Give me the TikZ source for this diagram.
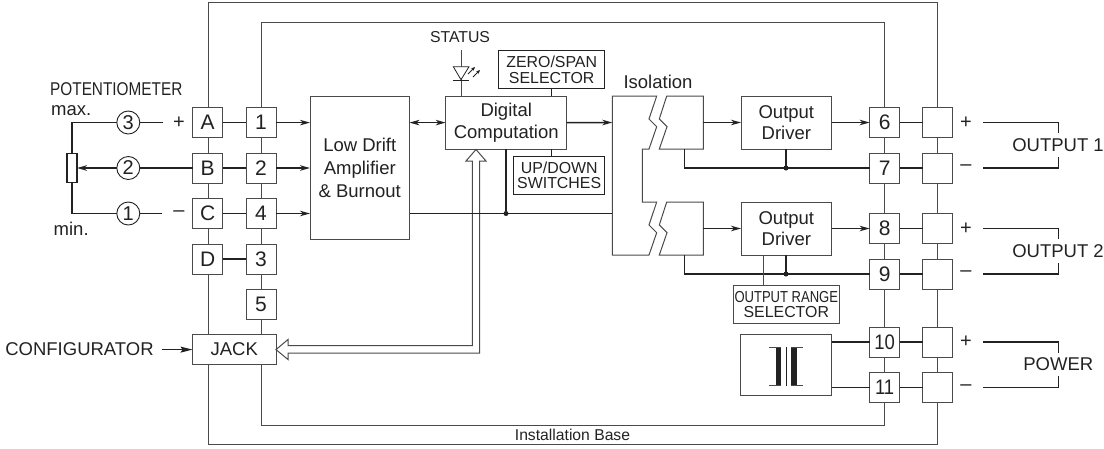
\documentclass[tikz,border=0pt]{standalone}
\usepackage{fontspec}
\setmainfont{Liberation Sans}
\usetikzlibrary{arrows.meta,calc}
\definecolor{ink}{HTML}{222222}
\definecolor{wire}{HTML}{4A4A4A}
\newcommand{\fs}[2]{\fontsize{#1}{#2}\selectfont}
\tikzset{
  x=1pt,y=-1pt,
  every node/.style={text=ink,font=\fs{18.5}{21.5}},
  thinl/.style={draw=wire,line width=1pt},
  thickl/.style={draw=ink,line width=1.5pt},
  term/.style={draw=wire,line width=1pt,fill=white,minimum width=30pt,minimum height=30pt,inner sep=0pt,outer sep=0pt,font=\fs{21}{21}},
  blockbox/.style={draw=wire,line width=1pt,fill=white,inner sep=0pt,outer sep=0pt,align=center},
  smallbox/.style={draw=ink,line width=0.9pt,fill=white,inner sep=0pt,outer sep=0pt,align=center,font=\fs{15.9}{15.4}},
  circ/.style={draw=ink,line width=0.9pt,fill=white,circle,minimum size=23pt,inner sep=0pt,outer sep=0pt,font=\fs{20}{20}},
  arr/.style={thickl,-{Stealth[length=10pt,width=5.5pt,inset=3pt]}},
  larr/.style={thickl,{Stealth[length=10pt,width=5.5pt,inset=3pt]}-{Stealth[length=10pt,width=5.5pt,inset=3pt]}},
  dotn/.style={circle,fill=ink,minimum size=5pt,inner sep=0pt,outer sep=0pt},
  lbl/.style={inner sep=0pt,outer sep=0pt},
  signl/.style={lbl,font=\fs{20}{20}},
  gaplbl/.style={lbl,fill=white,inner ysep=5pt},
}
\begin{document}
\begin{tikzpicture}
\useasboundingbox (0,0) rectangle (1104,448);
% frames
\draw[thinl] (208,2) rectangle (937.6,444);
\draw[thinl] (261,22) rectangle (884.6,425);
% left terminals
\node[term] (A) at (207.6,122.6) {A};
\node[term] (B) at (207.6,168) {B};
\node[term] (C) at (207.6,213.5) {C};
\node[term] (D) at (207.6,259) {D};
\node[term] (t1) at (261,122.6) {1};
\node[term] (t2) at (261,168) {2};
\node[term] (t4) at (261,213.5) {4};
\node[term] (t3) at (261,259) {3};
\node[term] (t5) at (261,304) {5};
\node[blockbox,minimum width=83.5pt,minimum height=30pt,anchor=west] (jack) at (192.5,349.6) {JACK};
% right terminals
\node[term] (t6) at (884.6,122.5) {6};
\node[term] (t7) at (884.6,168) {7};
\node[term] (t8) at (884.6,228.5) {8};
\node[term] (t9) at (884.6,274) {9};
\node[term] (t10) at (884.6,342) {\scalebox{.88}[1]{10}};
\node[term] (t11) at (884.6,387.5) {\scalebox{.88}[1]{11}};
\node[term] (r6) at (937.6,122.5) {};
\node[term] (r7) at (937.6,168) {};
\node[term] (r8) at (937.6,228.5) {};
\node[term] (r9) at (937.6,274) {};
\node[term] (r10) at (937.6,342) {};
\node[term] (r11) at (937.6,387.5) {};
% blocks
\node[blockbox,minimum width=99.5pt,minimum height=143pt,anchor=north west,font=\fs{18.5}{23}] (amp) at (310,96) {Low Drift\\Amplifier\\\&\ Burnout};
\node[blockbox,minimum width=121pt,minimum height=53pt,anchor=north west] (dig) at (445.7,96) {Digital\\Computation};
\node[smallbox,minimum width=106pt,minimum height=38pt,anchor=north west] (zero) at (498.7,50.7) {ZERO/SPAN\\SELECTOR};
\node[smallbox,minimum width=91pt,minimum height=38pt,anchor=north west] (updown) at (513.7,156.3) {UP/DOWN\\SWITCHES};
\node[blockbox,minimum width=90.7pt,minimum height=53pt,anchor=north west] (drv1) at (741,96) {Output\\Driver};
\node[blockbox,minimum width=90.7pt,minimum height=53pt,anchor=north west] (drv2) at (741,202) {Output\\Driver};
\node[smallbox,draw=wire,minimum width=106pt,minimum height=38pt,anchor=north west] (range) at (733.3,285.3) {\scalebox{.82}[1]{OUTPUT RANGE}\\SELECTOR};
\node[blockbox,minimum width=91pt,minimum height=60.3pt,anchor=north west] (psu) at (740.7,334.7) {};
% isolation
\coordinate (isoin) at (612.3,122.5);
\coordinate (isobus) at (612.3,213.5);
\coordinate (isoout1) at (703.3,122.5);
\coordinate (isoout2) at (703.3,228.5);
\coordinate (isoneg1) at (684.3,149);
\coordinate (isoneg2) at (684.3,255);
\draw[thinl,line join=miter] (612.3,96) -- (656.7,96) -- (649,119) -- (656.7,126.7) -- (649,149) -- (642.3,149) -- (642.3,202) -- (656.7,202) -- (649,225) -- (656.7,232.7) -- (649,255) -- (612.3,255) -- cycle;
\draw[thinl] (666.7,96) -- (659.3,119) -- (667,126.7) -- (659.3,149) -- (703.3,149) -- (703.3,96) -- cycle;
\draw[thinl] (666.7,202) -- (659.3,225) -- (667,232.7) -- (659.3,255) -- (703.3,255) -- (703.3,202) -- cycle;
\node[lbl] (isotxt) at (658,82) {Isolation};
% terminal links
\foreach \a/\b in {A/t1,B/t2,C/t4,D/t3,t6/r6,t7/r7,t8/r8,t9/r9,t10/r10,t11/r11}
  \draw[thickl] (\a) -- (\b);
\draw[arr] (t1) -- (t1-|amp.west);
\draw[arr] (t2) -- (t2-|amp.west);
\draw[arr] (t4) -- (t4-|amp.west);
\draw[larr] (amp.east|-t1) -- (dig.west|-t1);
\draw[arr] (dig.east|-t1) -- (isoin);
\draw[arr] (isoout1) -- (drv1.west|-isoout1);
\draw[arr] (isoout2) -- (drv2.west|-isoout2);
\draw[arr] (drv1.east|-t6) -- (t6.west);
\draw[arr] (drv2.east|-t8) -- (t8.west);
% double arrow
\draw[thinl,fill=none,line join=miter] (jack.east) -- (288,339.5) -- (288,345.7) -- (472.3,345.7) -- (472.3,161) -- (466,161) -- (476,149.5) -- (486,161) -- (479.7,161) -- (479.7,353) -- (288,353) -- (288,359.5) -- cycle;
% output negatives
\draw[thickl] (isoneg1) |- (t7.west);
\draw[thickl] (isoneg2) |- (t9.west);
\node[dotn] (d1) at (786,168) {};
\node[dotn] (d2) at (786,274) {};
\draw[thickl] (drv1.south-|d1) -- (d1);
\draw[thickl] (drv2.south-|d2) -- (d2);
\draw[thinl] (763.7,255) -- (763.7,285.3);
\draw[thickl] (t10.west) -- (t10.west-|psu.east);
\draw[thickl] (t11.west) -- (t11.west-|psu.east);
% bus
\coordinate (busv) at (506,149);
\node[dotn] (d3) at (506,213.5) {};
\draw[thickl] (amp.east|-t4) -- (isobus);
\draw[thickl] (busv) -- (d3);
% selectors
\draw[draw=ink,line width=.9pt] (551.3,88.7) -- (551.3,96);
\draw[draw=ink,line width=.9pt] (551.3,149) -- (551.3,156.3);
% status led
\node[lbl,font=\fs{15.8}{18}] (status) at (460,37) {STATUS};
\coordinate (ledtop) at (461,50);
\draw[thinl] (ledtop) -- (461,96);
\draw[draw=ink,line width=.8pt,fill=white,line join=miter] (453.3,66.7) -- (469,66.7) -- (461,79.7) -- cycle;
\draw[draw=ink,line width=.8pt] (452.7,80) -- (469.3,80);
\draw[draw=ink,line width=.8pt,-{Stealth[length=4pt,width=3.5pt]}] (468,74) -- (475,67);
\draw[draw=ink,line width=.8pt,-{Stealth[length=4pt,width=3.5pt]}] (473,77) -- (480,70);
% transformer
\fill[ink] (775.7,346.7) rectangle (781.3,385.5);
\fill[ink] (791.2,346.7) rectangle (796.8,385.5);
\draw[draw=wire,line width=.8pt] (769.3,347) -- (781.3,347) (769.3,385.2) -- (781.3,385.2);
\draw[draw=wire,line width=.8pt] (791.2,347) -- (803,347) (791.2,385.2) -- (803,385.2);
\draw[draw=ink,line width=1pt] (786.2,346.7) -- (786.2,385.5);
% potentiometer
\node[draw=ink,line width=1.3pt,fill=white,minimum width=10pt,minimum height=29.6pt,inner sep=0pt,outer sep=0pt] (pot) at (72,168) {};
\coordinate (p3) at (162.7,122.5);
\coordinate (p1) at (161.7,213.5);
\draw[thickl] (pot.north) |- (p3);
\draw[thickl] (pot.south) |- (p1);
\draw[arr] (B.west) -- (pot.east);
\node[circ] (c3) at (128.3,122.5) {3};
\node[circ] (c2) at (128.3,168) {2};
\node[circ] (c1) at (128.3,213.5) {1};
\node[signl] (plus) at (179,122.5) {+};
\node[signl] (minus) at (179,213.5) {–};
\node[lbl] (pottxt) at (116.3,89.3) {\scalebox{.83}[1]{POTENTIOMETER}};
\node[lbl] (maxt) at (71.2,110.5) {max.};
\node[lbl] (mint) at (71.2,229) {min.};
% configurator
\node[lbl] (conf) at (79.5,349.3) {CONFIGURATOR};
\coordinate (confs) at (162,349.6);
\draw[draw=ink,line width=1.2pt,-{Stealth[length=12pt,width=6pt,inset=2pt]}] (confs) -- (jack.west);
% outputs
\foreach \u/\v/\w in {r6/r7/o1,r8/r9/o2,r10/r11/o3}{
  \coordinate (\w a) at (983,0|-\u);
  \coordinate (\w b) at (983,0|-\v);
  \coordinate (\w c) at (1058.7,0|-\u);
  \coordinate (\w d) at (1058.7,0|-\v);
  \draw[thickl,line join=miter] (\w a) -- (\w c) -- (\w d) -- (\w b);
  \node[signl] at (966,0|-\u) {+};
  \node[signl] at (966,0|-\v) {–};
}
\node[gaplbl] (ot1) at (1058,145) {OUTPUT 1};
\node[gaplbl] (ot2) at (1058,251) {OUTPUT 2};
\node[gaplbl] (ot3) at (1058.3,364.5) {POWER};
% base label
\node[lbl,font=\fs{15.7}{18}] (base) at (572.5,435) {Installation Base};
\end{tikzpicture}
\end{document}
